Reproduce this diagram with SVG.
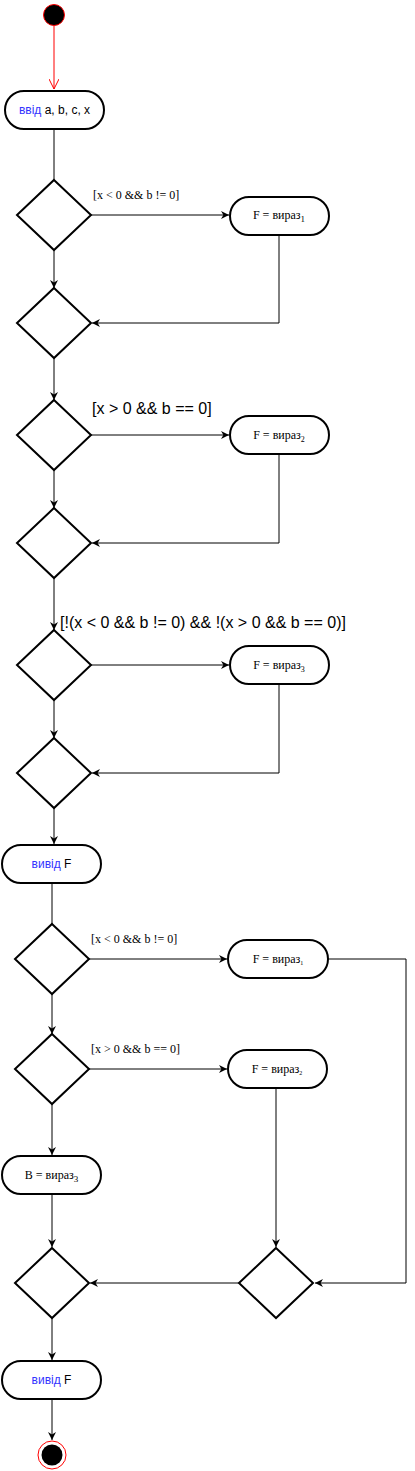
<svg xmlns="http://www.w3.org/2000/svg" width="415" height="1471" viewBox="0 0 415 1471">
<style>
.n{fill:#fff;stroke:#000;stroke-width:2}
.e{fill:none;stroke:#000;stroke-width:1}
.s{font-family:"Liberation Sans",Arial,sans-serif;font-size:12px;fill:#000}
.t{font-family:"Liberation Serif","Times New Roman",serif;font-size:12px;fill:#000}
.b{fill:#3333ff}
.lbs{font-family:"Liberation Serif","Times New Roman",serif;font-size:12px;fill:#000}
.lbl{font-family:"Liberation Sans",Arial,sans-serif;font-size:16px;fill:#000}
</style>
<defs>
<marker id="a" viewBox="0 0 10 10" refX="10" refY="5" markerWidth="8" markerHeight="8" markerUnits="userSpaceOnUse" orient="auto"><path d="M0,0 L10,5 L0,10 L3,5 Z" fill="#000"/></marker>
<marker id="r" viewBox="0 0 10 10" refX="10" refY="5" markerWidth="10" markerHeight="10" markerUnits="userSpaceOnUse" orient="auto"><path d="M0,0 L10,5 L0,10" fill="none" stroke="#f00" stroke-width="1"/></marker>
</defs>
<g id="connectors">
<path d="M54,26 V89" stroke="#f00" fill="none" marker-end="url(#r)"/>
<path class="e" d="M54,129 V180"/>
<path class="e" d="M91,215 H229" marker-end="url(#a)"/>
<path class="e" d="M54,250 V288" marker-end="url(#a)"/>
<path class="e" d="M279,235 V323 H92" marker-end="url(#a)"/>
<path class="e" d="M54,358 V400" marker-end="url(#a)"/>
<path class="e" d="M91,435 H229" marker-end="url(#a)"/>
<path class="e" d="M54,470 V508" marker-end="url(#a)"/>
<path class="e" d="M279,454 V543 H92" marker-end="url(#a)"/>
<path class="e" d="M54,578 V630" marker-end="url(#a)"/>
<path class="e" d="M91,665 H229" marker-end="url(#a)"/>
<path class="e" d="M54,700 V738" marker-end="url(#a)"/>
<path class="e" d="M279,684 V773 H92" marker-end="url(#a)"/>
<path class="e" d="M54,808 V844" marker-end="url(#a)"/>
<path class="e" d="M52,883 V924"/>
<path class="e" d="M89,959 H227" marker-end="url(#a)"/>
<path class="e" d="M328,959 H406 V1283 H315" marker-end="url(#a)"/>
<path class="e" d="M52,994 V1034" marker-end="url(#a)"/>
<path class="e" d="M89,1069 H227" marker-end="url(#a)"/>
<path class="e" d="M276,1088 V1247" marker-end="url(#a)"/>
<path class="e" d="M52,1104 V1155" marker-end="url(#a)"/>
<path class="e" d="M52,1194 V1247" marker-end="url(#a)"/>
<path class="e" d="M239,1283 H90" marker-end="url(#a)"/>
<path class="e" d="M52,1318 V1360" marker-end="url(#a)"/>
<path class="e" d="M52,1399 V1440" marker-end="url(#a)"/>
<text class="lbs" x="93" y="199">[x &lt; 0 &amp;&amp; b != 0]</text>
<text class="lbl" x="92" y="414">[x &gt; 0 &amp;&amp; b == 0]</text>
<text class="lbl" x="60" y="628">[!(x &lt; 0 &amp;&amp; b != 0) &amp;&amp; !(x &gt; 0 &amp;&amp; b == 0)]</text>
<text class="lbs" x="91" y="943">[x &lt; 0 &amp;&amp; b != 0]</text>
<text class="lbs" x="91" y="1053">[x &gt; 0 &amp;&amp; b == 0]</text>
</g>
<g id="start"><circle cx="54" cy="15" r="10.5" fill="#000" stroke="#f00" stroke-width="1"/></g>
<g id="input"><rect class="n" x="5" y="91" width="99" height="38" rx="19"/><text class="s" x="54.5" y="114" text-anchor="middle"><tspan class="b">ввід</tspan> a, b, c, x</text></g>
<g id="d1"><polygon class="n" points="54,180 91,215 54,250 17,215"/></g>
<g id="f1"><rect class="n" x="230" y="197" width="99" height="38" rx="19"/><text class="t" x="279" y="219" text-anchor="middle">F = вираз<tspan font-size="9" dy="3">1</tspan></text></g>
<g id="d2"><polygon class="n" points="54,288 91,323 54,358 17,323"/></g>
<g id="d3"><polygon class="n" points="54,400 91,435 54,470 17,435"/></g>
<g id="f2"><rect class="n" x="230" y="416" width="99" height="38" rx="19"/><text class="t" x="279" y="439" text-anchor="middle" font-size="11">F = вираз<tspan font-size="8" dy="3">2</tspan></text></g>
<g id="d4"><polygon class="n" points="54,508 91,543 54,578 17,543"/></g>
<g id="d5"><polygon class="n" points="54,630 91,665 54,700 17,665"/></g>
<g id="f3"><rect class="n" x="230" y="646" width="99" height="38" rx="19"/><text class="t" x="279" y="669" text-anchor="middle" font-size="11">F = вираз<tspan font-size="8" dy="3">3</tspan></text></g>
<g id="d6"><polygon class="n" points="54,738 91,773 54,808 17,773"/></g>
<g id="out1"><rect class="n" x="2" y="845" width="99" height="38" rx="19"/><text class="s" x="51.5" y="868" text-anchor="middle"><tspan class="b">вивід</tspan> F</text></g>
<g id="d7"><polygon class="n" points="52,924 89,959 52,994 15,959"/></g>
<g id="f4"><rect class="n" x="228" y="940" width="100" height="38" rx="19"/><text class="t" x="278" y="963" text-anchor="middle" font-size="11">F = вираз<tspan font-size="6" dy="2">1</tspan></text></g>
<g id="d8"><polygon class="n" points="52,1034 89,1069 52,1104 15,1069"/></g>
<g id="f5"><rect class="n" x="228" y="1050" width="99" height="38" rx="19"/><text class="t" x="277" y="1073" text-anchor="middle" font-size="11">F = вираз<tspan font-size="6" dy="2">2</tspan></text></g>
<g id="b3"><rect class="n" x="2" y="1156" width="99" height="38" rx="19"/><text class="t" x="51.5" y="1179" text-anchor="middle">B = вираз<tspan font-size="9" dy="3">3</tspan></text></g>
<g id="d9"><polygon class="n" points="52,1248 89,1283 52,1318 15,1283"/></g>
<g id="d10"><polygon class="n" points="276,1248 313,1283 276,1318 239,1283"/></g>
<g id="out2"><rect class="n" x="2" y="1361" width="99" height="38" rx="19"/><text class="s" x="51.5" y="1384" text-anchor="middle"><tspan class="b">вивід</tspan> F</text></g>
<g id="end"><circle cx="52" cy="1455" r="14" fill="#fff" stroke="#f00" stroke-width="1"/><circle cx="52" cy="1455" r="10.5" fill="#000"/></g>
</svg>
